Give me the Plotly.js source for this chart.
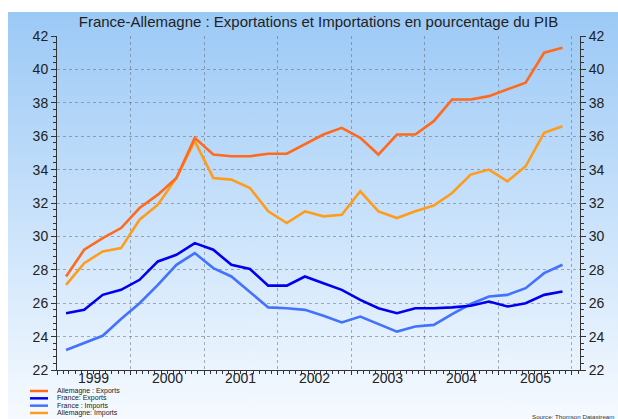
<!DOCTYPE html>
<html><head><meta charset="utf-8">
<script src="https://cdn.plot.ly/plotly-3.0.1.min.js"></script>
<style>
html,body{margin:0;padding:0;background:#fff;}
#wrap{position:relative;width:618px;height:419px;overflow:hidden;}
#bg{position:absolute;left:8px;top:12px;width:610px;height:407px;background:linear-gradient(to bottom,#9bc9f6 0%,#f6faff 100%);}
#chart{position:absolute;left:0;top:0;width:618px;height:419px;}
</style></head><body>
<div id="wrap"><div id="bg"></div><div id="chart"></div></div>
<script>
const quarters = [
 '1999-02-15','1999-05-16','1999-08-16','1999-11-15',
 '2000-02-15','2000-05-16','2000-08-16','2000-11-15',
 '2001-02-15','2001-05-16','2001-08-16','2001-11-15',
 '2002-02-15','2002-05-16','2002-08-16','2002-11-15',
 '2003-02-15','2003-05-16','2003-08-16','2003-11-15',
 '2004-02-15','2004-05-16','2004-08-16','2004-11-15',
 '2005-02-15','2005-05-16','2005-08-16','2005-11-15'];
const yearLabels = ['1999','2000','2001','2002','2003','2004','2005'];
const allemagneExports = [27.6,29.2,29.9,30.5,31.7,32.5,33.5,35.9,34.9,34.8,34.8,34.95,34.95,35.5,36.1,36.5,35.9,34.9,36.1,36.1,36.9,38.2,38.2,38.4,38.8,39.2,41.0,41.3];
const franceExports = [25.4,25.6,26.5,26.8,27.4,28.5,28.9,29.6,29.2,28.3,28.05,27.05,27.05,27.6,27.2,26.8,26.2,25.7,25.4,25.7,25.7,25.75,25.85,26.1,25.8,26.0,26.5,26.7];
const franceImports = [23.2,23.6,24.05,25.05,26.0,27.1,28.3,29.0,28.1,27.6,26.65,25.75,25.7,25.6,25.25,24.85,25.2,24.75,24.3,24.6,24.7,25.35,25.95,26.4,26.5,26.9,27.8,28.3];
const allemagneImports = [27.1,28.4,29.1,29.3,31.0,31.9,33.5,35.7,33.5,33.4,32.9,31.5,30.8,31.5,31.2,31.3,32.7,31.5,31.1,31.5,31.85,32.6,33.7,34.0,33.3,34.2,36.2,36.6];

const seriesNames = ['Allemagne : Exports','France: Exports','France : Imports','Allemagne: Imports'];
const seriesColors = ['#ff6a1c','#0000ee','#4272ff','#ff9c1c'];
const seriesValues = [allemagneExports, franceExports, franceImports, allemagneImports];

const W=618,H=419, L=57, R=580, T=36, B=370;
const px = x => (x-L)/(R-L);
const py = y => (B-y)/(B-T);
const FONT = 'Liberation Sans, Arial, sans-serif';

const traces = seriesValues.map((v,i)=>({
  x: quarters, y: v, type:'scatter', mode:'lines', name: seriesNames[i],
  line:{color: seriesColors[i], width:2.6}, yaxis: i===0 ? 'y2' : 'y', showlegend:false
}));
const order = [2,1,3,0];
const data = order.map(i=>traces[i]);

const shapes = [], annotations = [];
yearLabels.forEach(yl=>{
  annotations.push({xref:'x', yref:'paper', x: yl+'-07-02', y:py(377.5), xanchor:'center', yanchor:'middle',
    text:yl, showarrow:false, borderpad:0, font:{family:FONT, size:14, color:'#222'}});
});
seriesNames.forEach((n,i)=>{
  const yy = 391 + i*7.33;
  shapes.push({type:'line', xref:'paper', yref:'paper', x0:px(30), x1:px(48), y0:py(yy), y1:py(yy),
    line:{color:seriesColors[i], width:2.5}});
  annotations.push({xref:'paper', yref:'paper', x:px(56), y:py(yy), xanchor:'left', yanchor:'middle',
    text:n, showarrow:false, borderpad:0, font:{family:FONT, size:7, color:'#222'}});
});
annotations.push({xref:'paper', yref:'paper', x:px(531), y:py(416), xanchor:'left', yanchor:'middle',
  text:'Source: Thomson Datastream', showarrow:false, borderpad:0, font:{family:FONT, size:6.2, color:'#333'}});

const yCommon = {range:[22,42], tick0:22, dtick:2, ticks:'outside', ticklen:5, tickcolor:'#333',
  showline:true, linecolor:'#333', linewidth:1, zeroline:false,
  minor:{dtick:0.4, ticks:'outside', ticklen:3, tickcolor:'#333', showgrid:false},
  tickfont:{family:FONT, size:14, color:'#222'}, fixedrange:true};

const layout = {
  width:W, height:H,
  paper_bgcolor:'rgba(0,0,0,0)', plot_bgcolor:'rgba(0,0,0,0)',
  margin:{l:L, r:W-R, t:T, b:H-B, pad:0},
  title:{text:'France-Allemagne : Exportations et Importations en pourcentage du PIB',
    x:0.5, xref:'paper', y:1-22/H, yref:'container', yanchor:'middle', xanchor:'center',
    font:{family:FONT, size:15, color:'#222'}},
  xaxis:{type:'date', range:['1999-01-01','2006-02-10'], tick0:'1999-01-01', dtick:'M12',
    showticklabels:false, ticks:'outside', ticklen:4, tickcolor:'#333',
    showline:true, linecolor:'#333', linewidth:1, showgrid:true, gridcolor:'rgba(90,100,110,0.5)',
    gridwidth:1, griddash:'dot', zeroline:false,
    minor:{dtick:'M1', ticks:'outside', ticklen:3, tickcolor:'#333', showgrid:false},
    fixedrange:true},
  yaxis:Object.assign({}, yCommon, {showgrid:true, gridcolor:'rgba(90,100,110,0.5)', gridwidth:1, griddash:'dot'}),
  yaxis2:Object.assign({}, yCommon, {overlaying:'y', side:'right', showgrid:false}),
  shapes, annotations, showlegend:false
};
Plotly.newPlot('chart', data, layout, {displayModeBar:false, staticPlot:true});
</script></body></html>
